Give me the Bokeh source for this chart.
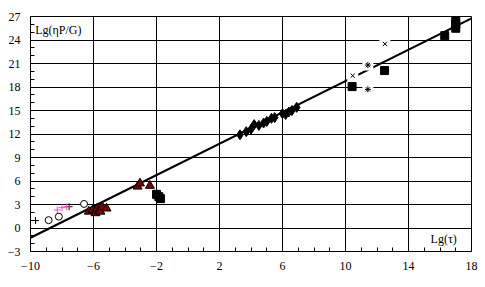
from bokeh.plotting import figure
from bokeh.models import Range1d, FixedTicker, Label
from bokeh.embed import file_html
from bokeh.resources import INLINE

# ---- data ----
x_ticks = [-10, -6, -2, 2, 6, 10, 14, 18]
y_ticks = [-3, 0, 3, 6, 9, 12, 15, 18, 21, 24, 27]

cross_black_x = [-9.68, -7.55]
cross_black_y = [0.95, 2.72]
cross_pink_x = [-8.3, -8.0, -7.7]
cross_pink_y = [2.3, 2.6, 2.7]

circle_x = [-8.85, -8.2, -6.6]
circle_y = [1.0, 1.45, 3.07]

tri_x = [-6.3, -6.05, -5.87, -5.77, -5.65, -5.56, -5.45, -5.17, -3.2, -3.05, -2.42]
tri_y = [2.1, 2.3, 1.9, 2.5, 2.2, 2.1, 2.7, 2.5, 5.3, 5.7, 5.4]

sq_x = [-2.0, -1.85, -1.75, 10.42, 12.48, 16.3, 17.0, 17.0, 17.0]
sq_y = [4.3, 4.0, 3.75, 18.05, 20.1, 24.55, 25.5, 26.0, 26.5]

dia_x = [3.3, 3.7, 4.0, 4.2, 4.5, 4.8, 5.0, 5.3, 5.5, 6.0, 6.2, 6.4, 6.6, 6.9]
dia_y = [11.9, 12.3, 12.6, 13.2, 13.1, 13.4, 13.6, 14.0, 14.1, 14.6, 14.5, 14.8, 15.0, 15.4]

xmark_x = [10.46, 12.5]
xmark_y = [19.45, 23.5]
ast_x = [11.42, 11.42]
ast_y = [20.8, 17.7]

fit_slope = 1.0
fit_intercept = 8.76
fit_x = [-10, 18]
fit_y = [fit_slope * v + fit_intercept for v in fit_x]

FONT = "Liberation Serif"

p = figure(width=485, height=287, output_backend="svg", toolbar_location=None,
           x_range=Range1d(-10, 18), y_range=Range1d(-3, 27),
           min_border_left=30, min_border_right=14, min_border_top=16, min_border_bottom=36)
p.background_fill_color = "white"
p.border_fill_color = "white"
p.outline_line_color = "black"
p.outline_line_width = 1

p.xaxis.ticker = FixedTicker(ticks=x_ticks, minor_ticks=list(range(-10, 19)))
p.yaxis.ticker = FixedTicker(ticks=y_ticks, minor_ticks=list(range(-3, 28)))
for ax in (p.xaxis, p.yaxis):
    ax.axis_line_color = None
    ax.major_tick_in = 0
    ax.major_tick_out = 0
    ax.minor_tick_in = 4
    ax.minor_tick_out = 0
    ax.minor_tick_line_color = "black"
    ax.major_label_text_font = FONT
    ax.major_label_text_font_size = "12px"
    ax.major_label_text_color = "black"
    ax.major_label_standoff = 10

p.xgrid.grid_line_color = "black"
p.ygrid.grid_line_color = "black"
p.xgrid.grid_line_alpha = 1
p.ygrid.grid_line_alpha = 1
p.xgrid.grid_line_width = 1
p.ygrid.grid_line_width = 1

# fit line
p.line(fit_x, fit_y, line_color="black", line_width=2.2)

# markers
p.scatter(cross_black_x, cross_black_y, marker="cross", size=7, line_color="black", line_width=1)
p.scatter(cross_pink_x, cross_pink_y, marker="cross", size=7, line_color="#ff44cc", line_width=1)
p.scatter(circle_x, circle_y, marker="circle", size=7, fill_color="white", line_color="black", line_width=1)
p.scatter(tri_x, tri_y, marker="triangle", size=9, fill_color="#800000", line_color="black", line_width=1)
p.scatter(sq_x, sq_y, marker="square", size=8, fill_color="black", line_color="black")
p.scatter(dia_x, dia_y, marker="diamond", size=10, fill_color="black", line_color="black")
p.scatter(xmark_x + ast_x, xmark_y + ast_y, marker="square", size=11, fill_color="white", line_color=None)
p.scatter(xmark_x, xmark_y, marker="x", size=6, line_color="black", line_width=1)
p.scatter(ast_x, ast_y, marker="asterisk", size=6, line_color="black", line_width=1)

p.add_layout(Label(x=-9.7, y=25.3, text="Lg(ηP/G)", text_font=FONT, text_font_size="12px",
                   text_baseline="middle", text_align="left", text_color="black"))
p.add_layout(Label(x=15.4, y=-1.4, text="Lg(τ)", text_font=FONT, text_font_size="12px",
                   text_baseline="middle", text_align="left", text_color="black"))

open("out.html", "w").write(file_html(p, INLINE))
